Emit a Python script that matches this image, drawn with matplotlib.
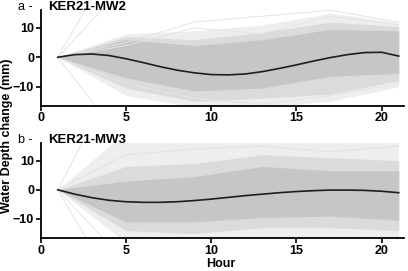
import matplotlib
matplotlib.use("Agg")
import matplotlib.pyplot as plt
import numpy as np

plt.rcParams['font.family'] = ['Liberation Sans', 'DejaVu Sans']

# ---- data ----
hours = list(range(1, 22))
knots = [1, 5, 9, 13, 17, 21]

mean_a = [0, 0.9, 1.1, 0.6, -0.5, -1.8, -3.2, -4.4, -5.3, -5.9, -6.0, -5.7,
          -4.9, -3.8, -2.6, -1.3, -0.1, 0.9, 1.6, 1.7, 0.4]
mean_b = [0, -1.5, -2.7, -3.6, -4.1, -4.3, -4.3, -4.1, -3.7, -3.2, -2.6, -2.0,
          -1.5, -1.0, -0.6, -0.3, -0.1, -0.1, -0.2, -0.5, -1.0]

# envelopes of the individual simulation lines
inner_hi_a = [0, 6.0, 4.0, 6.0, 9.5, 9.0]
inner_lo_a = [0, -7.0, -11.5, -10.5, -6.5, -5.5]
mid_hi_a = [0, 7.0, 6.0, 8.5, 12.0, 10.5]
mid_lo_a = [0, -10.5, -15.0, -14.0, -12.5, -8.0]
outer_hi_a = [0, 8.0, 9.0, 11.0, 15.0, 12.0]
outer_lo_a = [0, -13.0, -17.0, -17.0, -15.0, -10.0]

inner_hi_b = [0, 3.0, 4.5, 8.0, 6.5, 6.5]
inner_lo_b = [0, -11.0, -11.0, -9.5, -9.0, -10.5]
mid_hi_b = [0, 8.0, 9.0, 12.0, 11.0, 10.0]
mid_lo_b = [0, -14.0, -15.0, -13.0, -13.0, -14.0]
outer_hi_b = [0, 20.0, 18.0, 18.0, 18.0, 17.0]
outer_lo_b = [0, -18.0, -18.0, -17.0, -17.0, -17.0]

outliers_a = [
    [0, 40, 30, 30, 30, 30],
    [0, 25, 20, 22, 20, 20],
    [0, -30, -20, -25, -20, -20],
    [0, 5, 12, 14, 16, 12],
    [0, 4, 10, 8, 14, 11],
    [0, -9, -14, -16, -13, -9],
]
outliers_b = [
    [0, 45, 30, 30, 30, 30],
    [0, -40, -30, -30, -30, -30],
    [0, -25, -20, -20, -20, -20],
    [0, 12, 14, 15, 13, 15],
]

titles = ["KER21-MW2", "KER21-MW3"]
letters = ["a -", "b -"]
x_ticks = [0, 5, 10, 15, 20]
y_ticks = [-10, 0, 10]

fig = plt.figure(figsize=(4.08, 2.71), dpi=100)
ax_a = fig.add_axes([0.0998, 0.609, 0.89, 0.354])
ax_b = fig.add_axes([0.0998, 0.121, 0.89, 0.352])

panels = [
    (ax_a, mean_a, (inner_hi_a, inner_lo_a), (mid_hi_a, mid_lo_a), (outer_hi_a, outer_lo_a), outliers_a),
    (ax_b, mean_b, (inner_hi_b, inner_lo_b), (mid_hi_b, mid_lo_b), (outer_hi_b, outer_lo_b), outliers_b),
]

for i, (ax, mean, inner, mid, outer, outl) in enumerate(panels):
    ax.fill_between(knots, outer[1], outer[0], color='#eeeeee', lw=0)
    ax.fill_between(knots, mid[1], mid[0], color='#dbdbdb', lw=0)
    ax.fill_between(knots, inner[1], inner[0], color='#c6c6c6', lw=0)
    for o in outl:
        ax.plot(knots, o, color='#e4e4e4', lw=0.7)
    ax.plot(hours, mean, color='#1e1e1e', lw=1.2)
    ax.set_xlim(0, 21.3)
    ax.set_ylim(-16.6, 16.1)
    ax.set_xticks(x_ticks)
    ax.set_yticks(y_ticks)
    for s in ['top', 'right']:
        ax.spines[s].set_visible(False)
    for s in ['left', 'bottom']:
        ax.spines[s].set_linewidth(1.3)
        ax.spines[s].set_color('black')
    ax.tick_params(direction='out', length=3.5, width=1.2, labelsize=9, pad=1.2)
    for lab in ax.get_xticklabels() + ax.get_yticklabels():
        lab.set_fontweight('bold')
    ax.text(-0.0625, 1.03, letters[i], transform=ax.transAxes, fontsize=9,
            ha='left', va='center')
    ax.text(0.02, 1.03, titles[i], transform=ax.transAxes, fontsize=9.5,
            fontweight='bold', ha='left', va='center')

fig.text(0.016, 0.5, "Water Depth change (mm)", rotation=90, fontsize=9,
         fontweight='bold', ha='center', va='center')
fig.text(0.542, 0.026, "Hour", fontsize=9, fontweight='bold', ha='center', va='center')

fig.savefig("out.png", dpi=100)
